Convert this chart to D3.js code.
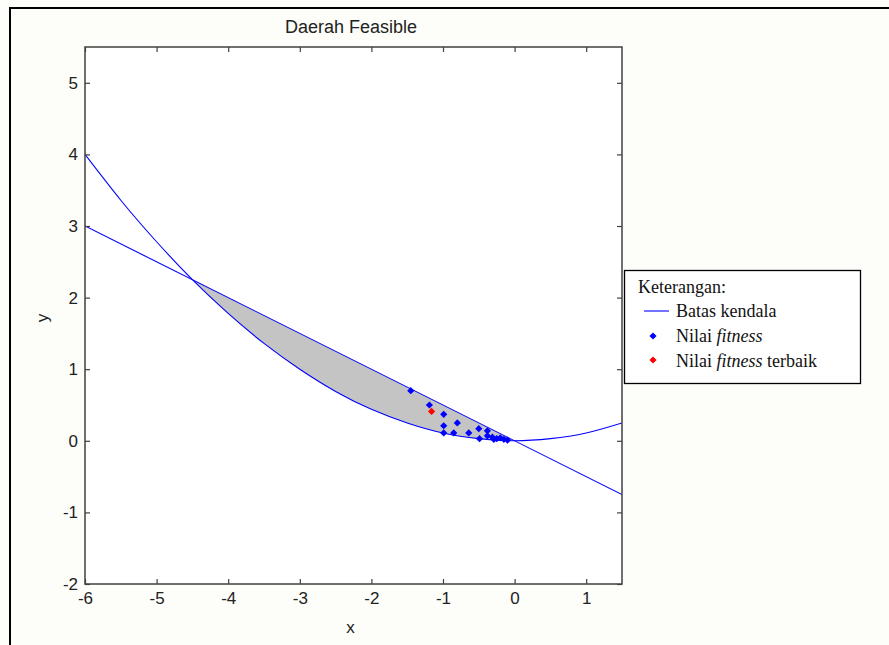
<!DOCTYPE html>
<html lang="id">
<head>
<meta charset="utf-8" />
<title>Daerah Feasible</title>
<script src="https://d3js.org/d3.v7.min.js"></script>
<style>
  body { margin: 0; background: #fdfdf9; }
  .axis path { display: none; }
  .axis line { stroke: #404040; stroke-width: 1.2px; }
  .axis text { font-family: "Liberation Sans", Arial, sans-serif; font-size: 17px; fill: #222; }
  .legend text { font-family: "Liberation Serif", "Times New Roman", serif; font-size: 18px; fill: #111; }
</style>
</head>
<body>
<script>
  // tick values
  var xTicks = [-6, -5, -4, -3, -2, -1, 0, 1];
  var yTicks = [-2, -1, 0, 1, 2, 3, 4, 5];

  // batas kendala
  var garisX = [-6, 1.5];
  var garisY = [3, -0.75];
  var parabolaX = [-6, -5.5, -5, -4.5, -4, -3.5, -3, -2.5, -2, -1.5, -1, -0.5, 0, 0.5, 1, 1.5];
  var parabolaY = [4, 3.36, 2.78, 2.25, 1.78, 1.36, 1.0, 0.69, 0.44, 0.25, 0.11, 0.03, 0, 0.03, 0.11, 0.25];

  // nilai fitness
  var fitnessX = [-1.45, -1.19, -0.99, -0.80, -0.99, -0.99, -0.85, -0.64, -0.50, -0.49, -0.38, -0.38, -0.31, -0.29, -0.25, -0.20, -0.15, -0.10];
  var fitnessY = [0.70, 0.50, 0.37, 0.25, 0.21, 0.11, 0.11, 0.11, 0.17, 0.03, 0.14, 0.07, 0.05, 0.02, 0.03, 0.04, 0.02, 0.01];
  // nilai fitness terbaik
  var terbaikX = [-1.16];
  var terbaikY = [0.41];

  var width = 889, height = 645;
  var mLeft = 85, mRight = 622, mTop = 47, mBottom = 584;

  var svg = d3.select("body").append("svg")
      .attr("width", width)
      .attr("height", height);

  // outer frame
  svg.append("rect")
      .attr("x", 10).attr("y", 8)
      .attr("width", 900).attr("height", 700)
      .attr("fill", "#fdfdf9")
      .attr("stroke", "#000").attr("stroke-width", 2);

  var x = d3.scaleLinear().domain([-6, 1.5]).range([mLeft, mRight]);
  var y = d3.scaleLinear().domain([-2, 5.5]).range([mBottom, mTop]);

  svg.append("rect")
      .attr("x", mLeft).attr("y", mTop)
      .attr("width", mRight - mLeft).attr("height", mBottom - mTop)
      .attr("fill", "#fff");

  svg.append("clipPath").attr("id", "plot")
    .append("rect")
      .attr("x", mLeft).attr("y", mTop)
      .attr("width", mRight - mLeft).attr("height", mBottom - mTop);

  var g = svg.append("g").attr("clip-path", "url(#plot)");

  var parabola = parabolaX.map(function (d, i) { return [d, parabolaY[i]]; });
  var garis = garisX.map(function (d, i) { return [d, garisY[i]]; });
  var garisAt = d3.scaleLinear().domain(garisX).range(garisY);

  // daerah feasible
  var daerah = parabola.filter(function (d) { return d[0] >= -4.5 && d[0] <= 0; });
  g.append("path")
      .datum(daerah)
      .attr("fill", "#c4c4c4")
      .attr("d", d3.area()
          .x(function (d) { return x(d[0]); })
          .y0(function (d) { return y(d[1]); })
          .y1(function (d) { return y(garisAt(d[0])); })
          .curve(d3.curveNatural));

  var line = d3.line()
      .x(function (d) { return x(d[0]); })
      .y(function (d) { return y(d[1]); });

  g.append("path").datum(garis)
      .attr("fill", "none").attr("stroke", "#0000ff").attr("stroke-width", 1.1)
      .attr("d", line);
  g.append("path").datum(parabola)
      .attr("fill", "none").attr("stroke", "#0000ff").attr("stroke-width", 1.1)
      .attr("d", line.curve(d3.curveNatural));

  var diamond = d3.symbol().type(d3.symbolSquare).size(26);

  g.selectAll(".fit")
      .data(fitnessX)
      .enter().append("path")
      .attr("class", "fit")
      .attr("d", diamond)
      .attr("fill", "#0000ff")
      .attr("transform", function (d, i) { return "translate(" + x(d) + "," + y(fitnessY[i]) + ") rotate(45)"; });

  g.selectAll(".best")
      .data(terbaikX)
      .enter().append("path")
      .attr("class", "best")
      .attr("d", diamond)
      .attr("fill", "#ff0000")
      .attr("transform", function (d, i) { return "translate(" + x(d) + "," + y(terbaikY[i]) + ") rotate(45)"; });

  // axes, ticks pointing inside
  var plain = function (d) { return String(d); };
  svg.append("g").attr("class", "axis")
      .attr("transform", "translate(0," + mBottom + ")")
      .call(d3.axisBottom(x).tickValues(xTicks).tickSize(-5).tickPadding(8).tickFormat(plain));
  svg.append("g").attr("class", "axis")
      .attr("transform", "translate(0," + mTop + ")")
      .call(d3.axisTop(x).tickValues(xTicks).tickSize(-5).tickFormat(""));
  svg.append("g").attr("class", "axis")
      .attr("transform", "translate(" + mLeft + ",0)")
      .call(d3.axisLeft(y).tickValues(yTicks).tickSize(-5).tickPadding(7).tickFormat(plain));
  svg.append("g").attr("class", "axis")
      .attr("transform", "translate(" + mRight + ",0)")
      .call(d3.axisRight(y).tickValues(yTicks).tickSize(-5).tickFormat(""));

  svg.append("rect")
      .attr("x", mLeft).attr("y", mTop)
      .attr("width", mRight - mLeft).attr("height", mBottom - mTop)
      .attr("fill", "none").attr("stroke", "#404040").attr("stroke-width", 1.5);

  var sans = "Liberation Sans, Arial, sans-serif";
  svg.append("text")
      .attr("x", 351).attr("y", 33)
      .attr("text-anchor", "middle")
      .style("font-family", sans).style("font-size", "18px").style("fill", "#222")
      .text("Daerah Feasible");
  svg.append("text")
      .attr("x", (mLeft + mRight) / 2 - 3).attr("y", 633)
      .attr("text-anchor", "middle")
      .style("font-family", sans).style("font-size", "17px").style("fill", "#222")
      .text("x");
  svg.append("text")
      .attr("transform", "translate(48,318) rotate(-90)")
      .attr("text-anchor", "middle")
      .style("font-family", sans).style("font-size", "17px").style("fill", "#222")
      .text("y");

  // legend
  var legend = svg.append("g").attr("class", "legend");
  legend.append("rect")
      .attr("x", 624.5).attr("y", 270.5)
      .attr("width", 236).attr("height", 113)
      .attr("fill", "#fff").attr("stroke", "#000").attr("stroke-width", 1.3);
  legend.append("text").attr("x", 638).attr("y", 293).text("Keterangan:");
  legend.append("line")
      .attr("x1", 644).attr("x2", 669).attr("y1", 311).attr("y2", 311)
      .attr("stroke", "#0000ff").attr("stroke-width", 1.1);
  legend.append("text").attr("x", 676).attr("y", 317).text("Batas kendala");
  legend.append("path").attr("d", diamond).attr("fill", "#0000ff")
      .attr("transform", "translate(653,336) rotate(45)");
  var t1 = legend.append("text").attr("x", 676).attr("y", 342);
  t1.append("tspan").text("Nilai ");
  t1.append("tspan").style("font-style", "italic").text("fitness");
  legend.append("path").attr("d", diamond).attr("fill", "#ff0000")
      .attr("transform", "translate(653,360) rotate(45)");
  var t2 = legend.append("text").attr("x", 676).attr("y", 367);
  t2.append("tspan").text("Nilai ");
  t2.append("tspan").style("font-style", "italic").text("fitness");
  t2.append("tspan").text(" terbaik");
</script>
</body>
</html>
